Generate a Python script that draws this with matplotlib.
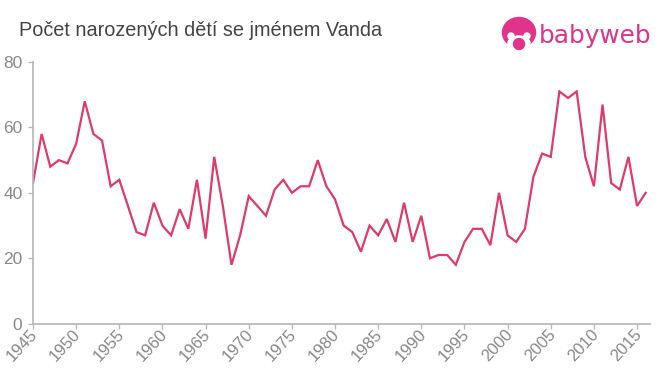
import matplotlib
matplotlib.use('Agg')
import matplotlib.pyplot as plt
from matplotlib.patches import Circle, Ellipse
from matplotlib.transforms import ScaledTranslation

matplotlib.rcParams['font.family'] = ['Liberation Sans', 'DejaVu Sans']

# 資料
years = list(range(1945, 2017))
counts = [43, 58, 48, 50, 49, 55, 68, 58, 56, 42,
          44, 36, 28, 27, 37, 30, 27, 35, 29, 44,
          26, 51, 36, 18, 27, 39, 36, 33, 41, 44,
          40, 42, 42, 50, 42, 38, 30, 28, 22, 30,
          27, 32, 25, 37, 25, 33, 20, 21, 21, 18,
          25, 29, 29, 24, 40, 27, 25, 29, 45, 52,
          51, 71, 69, 71, 51, 42, 67, 43, 41, 51,
          36, 40]
x_ticks = list(range(1945, 2020, 5))
y_ticks = [0, 20, 40, 60, 80]
title = 'Počet narozených dětí se jménem Vanda'
brand = 'babyweb'

W, H = 660, 375
line_color = '#de3a6c'
logo_color = '#e0338a'
axis_color = '#b5b5b5'
text_color = '#888888'

fig = plt.figure(figsize=(W / 100, H / 100), dpi=100)
ax = fig.add_axes([33 / W, 1 - 323.7 / H, 617 / W, 261.7 / H])

ax.plot(years, counts, color=line_color, linewidth=1.6, solid_joinstyle='miter')
ax.set_xlim(1945, 2016.5)
ax.set_ylim(0, 80)

ax.set_xticks(x_ticks)
ax.set_yticks(y_ticks)
ax.set_xticklabels(x_ticks, rotation=47, ha='right', va='center', rotation_mode='anchor')
ax.tick_params(axis='both', colors=axis_color, labelcolor=text_color, width=0.9, length=3.6)
ax.tick_params(axis='x', labelsize=12, pad=2)
ax.tick_params(axis='y', labelsize=12.5, pad=4)

# 標籤往右移一點
shift = ScaledTranslation(1.5 / 72, 0, fig.dpi_scale_trans)
for label in ax.get_xticklabels():
    label.set_transform(label.get_transform() + shift)

ax.spines['top'].set_visible(False)
ax.spines['right'].set_visible(False)
ax.spines['left'].set_color(axis_color)
ax.spines['bottom'].set_color(axis_color)
ax.spines['left'].set_linewidth(1.2)
ax.spines['bottom'].set_linewidth(1.2)

fig.text(19 / W, 1 - 31 / H, title, fontsize=14.3, color='#444444', va='center', ha='left')

# 商標
logo = fig.add_axes([0, 0, 1, 1], facecolor='none')
logo.set_xlim(0, W)
logo.set_ylim(H, 0)
logo.axis('off')
logo.add_patch(Ellipse((519, 32.5), 33, 30, color=logo_color))
logo.add_patch(Ellipse((519, 43), 22, 14, color='white'))
logo.add_patch(Circle((511, 36), 3, color='white'))
logo.add_patch(Circle((527, 36), 3, color='white'))
logo.add_patch(Circle((519, 44), 5.5, color=logo_color))
logo.text(539, 43, brand, fontsize=17.8, color=logo_color, family='DejaVu Sans',
          va='baseline', ha='left')

fig.savefig('out.png', dpi=100)
